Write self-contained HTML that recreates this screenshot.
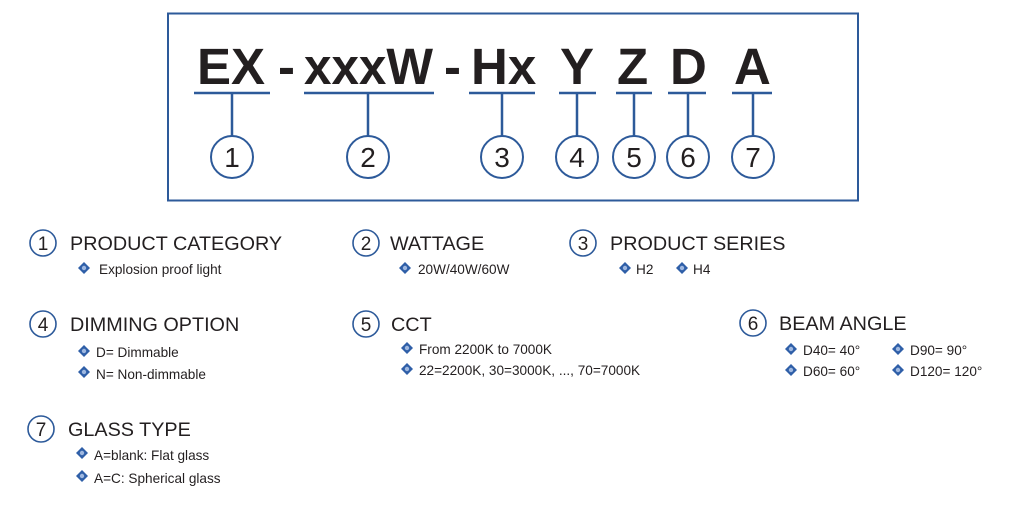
<!DOCTYPE html>
<html><head><meta charset="utf-8"><style>
html,body{margin:0;padding:0;background:#fff;}
svg{display:block;}
text{font-family:"Liberation Sans",Arial,sans-serif;fill:#231f20;}
</style></head><body>
<svg width="1011" height="508" viewBox="0 0 1011 508" xmlns="http://www.w3.org/2000/svg">
<defs>
<g id="b"><path d="M0,-6 L6,0 L0,6 L-6,0 Z" fill="#2f5fa8"/><circle r="2.2" fill="#9fb8e0"/></g>
</defs>
<rect x="168" y="13.5" width="690" height="187" fill="none" stroke="#2d5a9a" stroke-width="2"/>
<g font-weight="bold" font-size="51">
<text x="197" y="84">EX</text>
<text x="278" y="84">-</text>
<text x="304" y="84" textLength="129" lengthAdjust="spacingAndGlyphs">xxxW</text>
<text x="444" y="84">-</text>
<text x="471" y="84">Hx</text>
<text x="560" y="84">Y</text>
<text x="617" y="84">Z</text>
<text x="670" y="84">D</text>
<text x="734" y="84">A</text>
</g>
<g stroke="#2d5a9a" stroke-width="2.5" fill="none">
<line x1="194" y1="93" x2="270" y2="93"/><line x1="232" y1="93" x2="232" y2="136"/>
<line x1="304" y1="93" x2="434" y2="93"/><line x1="368" y1="93" x2="368" y2="136"/>
<line x1="469" y1="93" x2="535" y2="93"/><line x1="502" y1="93" x2="502" y2="136"/>
<line x1="559" y1="93" x2="596" y2="93"/><line x1="577" y1="93" x2="577" y2="136"/>
<line x1="616" y1="93" x2="652" y2="93"/><line x1="634" y1="93" x2="634" y2="136"/>
<line x1="668" y1="93" x2="706" y2="93"/><line x1="688" y1="93" x2="688" y2="136"/>
<line x1="732" y1="93" x2="772" y2="93"/><line x1="753" y1="93" x2="753" y2="136"/>
</g>
<g stroke="#2d5a9a" stroke-width="2" fill="#fff">
<circle cx="232" cy="157" r="21"/><circle cx="368" cy="157" r="21"/><circle cx="502" cy="157" r="21"/>
<circle cx="577" cy="157" r="21"/><circle cx="634" cy="157" r="21"/><circle cx="688" cy="157" r="21"/><circle cx="753" cy="157" r="21"/>
</g>
<g font-size="28" text-anchor="middle">
<text x="232" y="167">1</text><text x="368" y="167">2</text><text x="502" y="167">3</text>
<text x="577" y="167">4</text><text x="634" y="167">5</text><text x="688" y="167">6</text><text x="753" y="167">7</text>
</g>

<g stroke="#2d5a9a" stroke-width="1.6" fill="#fff">
<circle cx="43" cy="243" r="13"/><circle cx="366" cy="243" r="13"/><circle cx="583" cy="243" r="13"/>
<circle cx="43" cy="324" r="13"/><circle cx="366" cy="324" r="13"/><circle cx="753" cy="323" r="13"/>
<circle cx="41" cy="429" r="13"/>
</g>
<g font-size="19" text-anchor="middle">
<text x="43" y="250">1</text><text x="366" y="250">2</text><text x="583" y="250">3</text>
<text x="43" y="331">4</text><text x="366" y="331">5</text><text x="753" y="330">6</text>
<text x="41" y="436">7</text>
</g>
<g font-size="19.8">
<text x="70" y="250">PRODUCT CATEGORY</text>
<text x="390" y="250">WATTAGE</text>
<text x="610" y="250">PRODUCT SERIES</text>
<text x="70" y="331">DIMMING OPTION</text>
<text x="391" y="331">CCT</text>
<text x="779" y="330">BEAM ANGLE</text>
<text x="68" y="436">GLASS TYPE</text>
</g>
<use href="#b" x="84" y="268"/><use href="#b" x="405" y="268"/>
<use href="#b" x="625" y="268"/><use href="#b" x="682" y="268"/>
<use href="#b" x="84" y="351"/><use href="#b" x="84" y="372"/>
<use href="#b" x="407" y="348"/><use href="#b" x="407" y="369"/>
<use href="#b" x="791" y="349"/><use href="#b" x="898" y="349"/>
<use href="#b" x="791" y="370"/><use href="#b" x="898" y="370"/>
<use href="#b" x="82" y="453"/><use href="#b" x="82" y="476"/>
<g font-size="13.6">
<text x="99" y="274">Explosion proof light</text>
<text x="418" y="274">20W/40W/60W</text>
<text x="636" y="274">H2</text>
<text x="693" y="274">H4</text>
<text x="96" y="357">D= Dimmable</text>
<text x="96" y="379">N= Non-dimmable</text>
<text x="419" y="354">From 2200K to 7000K</text>
<text x="419" y="375">22=2200K, 30=3000K, ..., 70=7000K</text>
<text x="803" y="355">D40= 40°</text>
<text x="910" y="355">D90= 90°</text>
<text x="803" y="376">D60= 60°</text>
<text x="910" y="376">D120= 120°</text>
<text x="94" y="460">A=blank: Flat glass</text>
<text x="94" y="483">A=C: Spherical glass</text>
</g>
</svg>
</body></html>
